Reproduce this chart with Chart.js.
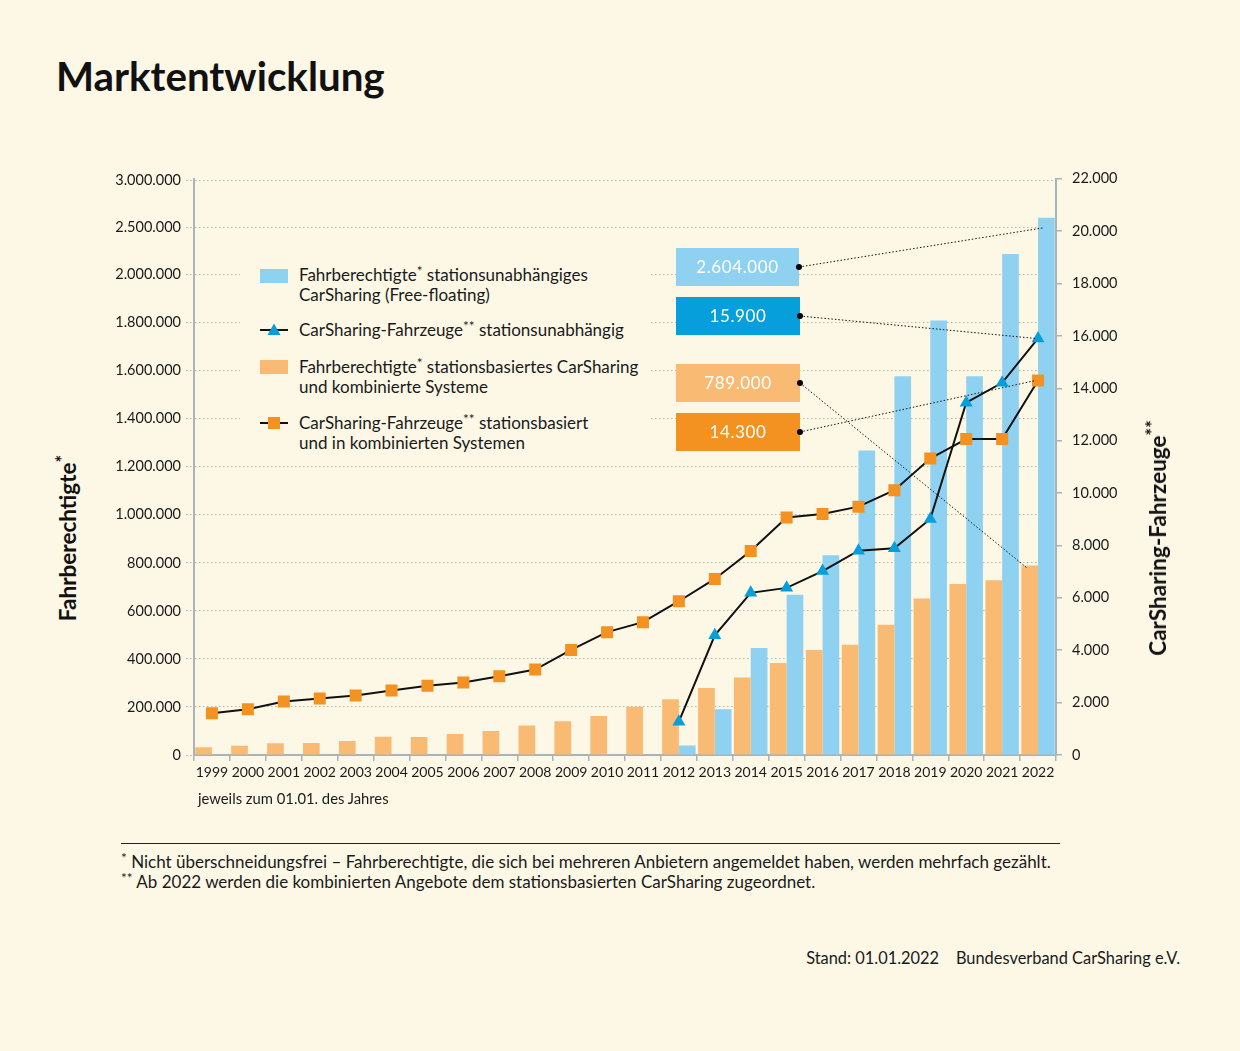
<!DOCTYPE html>
<html lang="de">
<head>
<meta charset="utf-8">
<title>Marktentwicklung</title>
<script src="https://cdn.jsdelivr.net/npm/chart.js@4.4.1/dist/chart.umd.min.js"></script>
<style>
  html, body { margin: 0; padding: 0; }
  body { width: 1240px; height: 1051px; background: #fdf7e6; font-family: Lato, "Noto Sans", sans-serif; color: #1a1a1a; position: relative; overflow: hidden; }
  .abs { position: absolute; white-space: nowrap; }
  h1 { position: absolute; left: 56px; top: 52px; margin: 0; font: 700 40.3px/48px Lato, sans-serif; letter-spacing: 0; color: #111; }
  #chartBox { position: absolute; left: 100px; top: 160px; width: 1080px; height: 660px; }
  .ytitle { position: absolute; font: 700 22.5px/26px Lato, sans-serif; transform: translate(-50%, -50%) rotate(-90deg); white-space: nowrap; color: #111; }
  .ytitle sup, .leg sup, .notes sup { font-size: 0.8em; line-height: 0; vertical-align: 0.4em; }
  #legend { position: absolute; left: 240px; top: 257px; width: 410px; height: 202px; background: #fdf7e6; }
  .leg { position: absolute; left: 59px; font-size: 17px; line-height: 20px; white-space: nowrap; }
  .icon { position: absolute; left: 20px; }
  .xnote { font-size: 14.8px; line-height: 18px; left: 198px; top: 789px; }
  .rule { position: absolute; left: 121px; top: 843px; width: 939px; height: 1px; background: #222; }
  .notes { position: absolute; left: 121px; top: 852px; font-size: 17px; line-height: 20px; white-space: nowrap; }
  .source { position: absolute; right: 60px; top: 948px; font-size: 16.4px; line-height: 20px; white-space: nowrap; }
</style>
</head>
<body>
<h1>Marktentwicklung</h1>
<div id="chartBox"><canvas id="chart"></canvas></div>

<div class="ytitle" style="left:68px; top:538px;">Fahrberechtigte<sup>*</sup></div>
<div class="ytitle" style="left:1158px; top:538px;">CarSharing-Fahrzeuge<sup>**</sup></div>
<div class="abs xnote">jeweils zum 01.01. des Jahres</div>

<div id="legend">
  <svg class="icon" style="top:12px" width="28" height="14"><rect width="28" height="14" fill="#8fd1f0"/></svg>
  <div class="leg" style="top:8px">Fahrberechtigte<sup>*</sup> stationsunabhängiges<br>CarSharing (Free-floating)</div>
  <svg class="icon" style="top:65px" width="28" height="16"><line x1="0" y1="8" x2="28" y2="8" stroke="#111" stroke-width="2"/><polygon points="14,1.5 20.5,13 7.5,13" fill="#079fdb"/></svg>
  <div class="leg" style="top:63px">CarSharing-Fahrzeuge<sup>**</sup> stationsunabhängig</div>
  <svg class="icon" style="top:103px" width="28" height="14"><rect width="28" height="14" fill="#f9bb73"/></svg>
  <div class="leg" style="top:100px">Fahrberechtigte<sup>*</sup> stationsbasiertes CarSharing<br>und kombinierte Systeme</div>
  <svg class="icon" style="top:158px" width="28" height="16"><line x1="0" y1="8" x2="28" y2="8" stroke="#111" stroke-width="2"/><rect x="8" y="2" width="12" height="12" fill="#f39221"/></svg>
  <div class="leg" style="top:156px">CarSharing-Fahrzeuge<sup>**</sup> stationsbasiert<br>und in kombinierten Systemen</div>
</div>

<div class="rule"></div>
<div class="notes"><sup>*</sup> Nicht überschneidungsfrei – Fahrberechtigte, die sich bei mehreren Anbietern angemeldet haben, werden mehrfach gezählt.<br><sup>**</sup> Ab 2022 werden die kombinierten Angebote dem stationsbasierten CarSharing zugeordnet.</div>
<div class="source">Stand: 01.01.2022 &nbsp;&nbsp; Bundesverband CarSharing e.V.</div>

<script>
const years = ['1999', '2000', '2001', '2002', '2003', '2004', '2005', '2006', '2007', '2008', '2009', '2010',
               '2011', '2012', '2013', '2014', '2015', '2016', '2017', '2018', '2019', '2020', '2021', '2022'];

// Fahrberechtigte (linke Achse)
const usersStation = [32000, 39000, 49000, 50000, 58000, 76000, 75000, 87000, 100000, 123000, 141000, 162000,
                      201000, 232000, 279000, 323000, 383000, 437000, 459000, 542000, 652000, 712000, 728000, 789000];
const usersFree = [null, null, null, null, null, null, null, null, null, null, null, null,
                   null, 40000, 190000, 445000, 667000, 832000, 1268000, 1577000, 1809000, 1577000, 2219000, 2604000];

// Fahrzeuge (rechte Achse)
const carsStation = [1590, 1750, 2040, 2160, 2270, 2460, 2640, 2770, 3010, 3260, 4010, 4690,
                     5070, 5870, 6720, 7790, 9070, 9200, 9480, 10110, 11320, 12060, 12060, 14300];
const carsFree = [null, null, null, null, null, null, null, null, null, null, null, null,
                  null, 1270, 4570, 6190, 6380, 7020, 7800, 7890, 9010, 13450, 14210, 15900];

const leftTicks = [0, 200000, 400000, 600000, 800000, 1000000, 1200000, 1400000, 1600000, 1800000, 2000000, 2500000, 3000000];
const rightMax = 22000;
const rightStep = 2000;

// the left axis is not linear: above 2.000.000 the steps are compressed
const breakValues = [0, 2000000, 2500000, 3000000];
const breakFracs = [0, 0.8336, 0.9156, 0.9965];

const LIGHT_BLUE = '#8fd1f0';
const BLUE = '#079fdb';
const LIGHT_ORANGE = '#f9bb73';
const ORANGE = '#f39221';
const AXIS = '#a9b3ba';

function fmt(n) {
    return String(Math.round(n)).replace(/\B(?=(\d{3})+(?!\d))/g, '.');
}

function valueToFrac(v) {
    for (let i = 1; i < breakValues.length; i++) {
        if (v <= breakValues[i] || i === breakValues.length - 1) {
            const v0 = breakValues[i - 1], v1 = breakValues[i];
            const f0 = breakFracs[i - 1], f1 = breakFracs[i];
            return f0 + (v - v0) / (v1 - v0) * (f1 - f0);
        }
    }
    return 0;
}

function fracToValue(f) {
    for (let i = 1; i < breakFracs.length; i++) {
        if (f <= breakFracs[i] || i === breakFracs.length - 1) {
            const v0 = breakValues[i - 1], v1 = breakValues[i];
            const f0 = breakFracs[i - 1], f1 = breakFracs[i];
            return v0 + (f - f0) / (f1 - f0) * (v1 - v0);
        }
    }
    return 0;
}

class BrokenScale extends Chart.LinearScale {
    buildTicks() {
        return leftTicks.map(v => ({ value: v }));
    }
    getPixelForValue(value) {
        if (value === null || value === undefined || isNaN(value)) return NaN;
        return this.bottom - valueToFrac(value) * (this.bottom - this.top);
    }
    getValueForPixel(pixel) {
        return fracToValue((this.bottom - pixel) / (this.bottom - this.top));
    }
}
BrokenScale.id = 'broken';
Chart.register(BrokenScale);

// boxes in page coordinates, chart box sits at (100, 160)
const OFFSET_X = 100, OFFSET_Y = 160;
const callouts = [
    { dataset: 1, x: 676, y: 248, w: 123, h: 38, fill: LIGHT_BLUE, dy: 10 },
    { dataset: 2, x: 676, y: 297, w: 124, h: 38, fill: BLUE, dy: 0 },
    { dataset: 0, x: 676, y: 364, w: 124, h: 38, fill: LIGHT_ORANGE, dy: 3 },
    { dataset: 3, x: 676, y: 413, w: 124, h: 38, fill: ORANGE, dy: 0 }
];

const calloutPlugin = {
    id: 'callouts',
    afterDatasetsDraw(chart) {
        const ctx = chart.ctx;
        callouts.forEach(c => {
            const data = chart.data.datasets[c.dataset].data;
            const last = data.length - 1;
            const el = chart.getDatasetMeta(c.dataset).data[last];
            const x = c.x - OFFSET_X, y = c.y - OFFSET_Y;
            const dotX = x + c.w, dotY = y + c.h / 2;

            ctx.save();
            ctx.fillStyle = c.fill;
            ctx.fillRect(x, y, c.w, c.h);

            ctx.fillStyle = '#fff';
            ctx.font = '17px Lato, sans-serif';
            ctx.letterSpacing = '0.6px';
            ctx.textAlign = 'center';
            ctx.textBaseline = 'middle';
            ctx.fillText(fmt(data[last]), x + c.w / 2, dotY + 1);

            ctx.strokeStyle = '#111';
            ctx.lineWidth = 1;
            ctx.setLineDash([1.5, 2]);
            ctx.beginPath();
            ctx.moveTo(dotX, dotY);
            ctx.lineTo(el.x - 2, el.y + c.dy);
            ctx.stroke();

            ctx.setLineDash([]);
            ctx.fillStyle = '#000';
            ctx.beginPath();
            ctx.arc(dotX, dotY, 3, 0, Math.PI * 2);
            ctx.fill();
            ctx.restore();
        });
    }
};

const tickFont = { family: 'Lato, sans-serif', size: 14 };
const yTickFont = { family: 'Lato, sans-serif', size: 14.5 };

new Chart(document.getElementById('chart'), {
    data: {
        labels: years,
        datasets: [
            {
                type: 'bar', label: 'Fahrberechtigte stationsbasiert', data: usersStation,
                backgroundColor: LIGHT_ORANGE, yAxisID: 'y', order: 2,
                categoryPercentage: 0.93, barPercentage: 1.0
            },
            {
                type: 'bar', label: 'Fahrberechtigte Free-floating', data: usersFree,
                backgroundColor: LIGHT_BLUE, yAxisID: 'y', order: 2,
                categoryPercentage: 0.93, barPercentage: 1.0
            },
            {
                type: 'line', label: 'Fahrzeuge stationsunabhängig', data: carsFree,
                yAxisID: 'y1', order: 1, borderColor: '#111', borderWidth: 2,
                pointStyle: 'triangle', pointRadius: 7.5, pointBackgroundColor: BLUE,
                pointBorderWidth: 0, tension: 0
            },
            {
                type: 'line', label: 'Fahrzeuge stationsbasiert', data: carsStation,
                yAxisID: 'y1', order: 0, borderColor: '#111', borderWidth: 2,
                pointStyle: 'rect', pointRadius: 8.5, pointBackgroundColor: ORANGE,
                pointBorderWidth: 0, tension: 0
            }
        ]
    },
    options: {
        responsive: true,
        maintainAspectRatio: false,
        animation: false,
        layout: { padding: { top: 15, left: 0, right: 0, bottom: 0 } },
        plugins: { legend: { display: false }, tooltip: { enabled: false } },
        scales: {
            x: {
                type: 'category',
                afterFit: s => { s.height = 65; },
                grid: { drawOnChartArea: false, drawTicks: true, tickLength: 6, color: AXIS, lineWidth: 1.5, offset: true },
                border: { color: AXIS, width: 2 },
                ticks: { font: tickFont, color: '#1a1a1a', padding: 3, maxRotation: 0, autoSkip: false }
            },
            y: {
                type: 'broken',
                position: 'left',
                min: 0,
                max: 3000000,
                afterFit: s => { s.width = 94; },
                grid: { color: '#b9b6ad', lineWidth: 1, tickLength: 8, tickBorderDash: [1.5, 2.5], tickColor: '#b9b6ad' },
                border: { color: AXIS, width: 2, dash: [1.5, 2.5] },
                ticks: { font: yTickFont, color: '#1a1a1a', padding: 5, callback: v => fmt(v) }
            },
            y1: {
                type: 'linear',
                position: 'right',
                min: 0,
                max: rightMax,
                afterFit: s => { s.width = 124; },
                grid: { drawOnChartArea: false, drawTicks: true, tickLength: 6, color: AXIS, lineWidth: 1.5 },
                border: { color: AXIS, width: 2 },
                ticks: { stepSize: rightStep, font: yTickFont, color: '#1a1a1a', padding: 10, callback: v => fmt(v) }
            }
        }
    },
    plugins: [calloutPlugin]
});
</script>
</body>
</html>
